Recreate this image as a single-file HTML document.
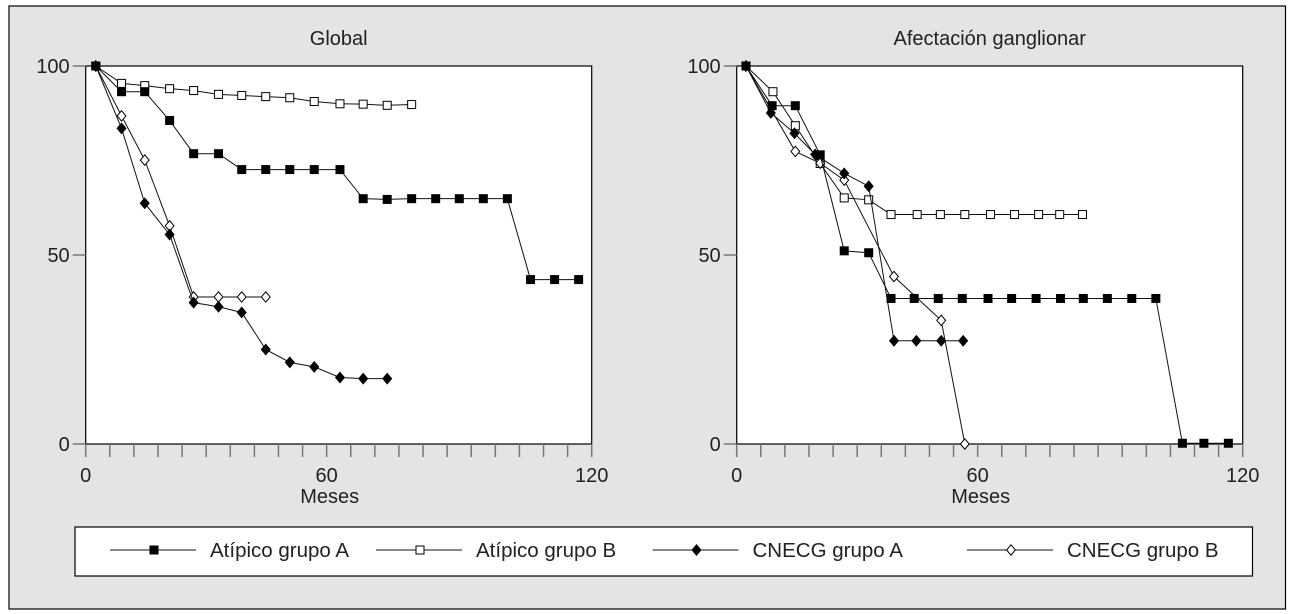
<!DOCTYPE html>
<html><head><meta charset="utf-8"><style>
html,body{margin:0;padding:0;background:#fff;}
svg{display:block;font-family:"Liberation Sans",sans-serif;}
</style></head><body>
<svg id="fig" width="1293" height="614" viewBox="0 0 1293 614">
<rect x="9" y="6" width="1276.5" height="603" fill="#e4e4e4" stroke="#000" stroke-width="1.2"/>
<g id="legend"></g>
</svg>
<script>
// ---- Global panel data (months, % survival) ----
const gAtA_x = [2.4,8.5,14.0,19.9,25.6,31.5,37.0,42.7,48.4,54.2,60.3,65.8,71.5,77.3,83.0,88.6,94.3,100,105.5,111.2,116.9];
const gAtA_y = [100,93.2,93.2,85.6,76.8,76.8,72.6,72.6,72.6,72.6,72.6,64.9,64.7,64.9,64.9,64.9,64.9,64.9,43.5,43.5,43.5];
const gAtB_x = [2.4,8.5,14.0,19.9,25.6,31.5,37.0,42.7,48.4,54.2,60.3,65.8,71.5,77.3];
const gAtB_y = [100,95.4,94.8,94.0,93.5,92.5,92.2,91.9,91.6,90.6,90.0,89.9,89.6,89.8];
const gCnA_x = [2.4,8.5,14.0,19.9,25.6,31.5,37.0,42.7,48.4,54.2,60.3,65.8,71.5];
const gCnA_y = [100,83.5,63.7,55.4,37.4,36.3,34.8,25.0,21.6,20.4,17.6,17.3,17.3];
const gCnB_x = [2.4,8.5,14.0,19.9,25.6,31.5,37.0,42.7];
const gCnB_y = [100,86.8,75.1,57.7,38.9,38.9,38.9,38.9];
// ---- Afectación ganglionar panel data ----
const aAtA_x = [2.2,8.4,13.9,19.8,25.5,31.3,36.6,42.1,47.8,53.5,59.6,65.2,71.0,76.8,82.2,87.9,93.7,99.4,105.7,110.8,116.6];
const aAtA_y = [100,89.5,89.5,76.5,51.1,50.6,38.5,38.5,38.5,38.5,38.5,38.5,38.5,38.5,38.5,38.5,38.5,38.5,0.2,0.2,0.2];
const aAtB_x = [2.2,8.6,13.9,19.8,25.5,31.3,36.6,42.8,48.3,54.1,60.2,65.9,71.6,76.6,82.0];
const aAtB_y = [100,93.2,84.2,74.2,65.1,64.6,60.7,60.7,60.7,60.7,60.7,60.7,60.7,60.7,60.7];
const aCnA_x = [2.2,8.1,13.7,18.6,25.5,31.3,37.3,42.6,48.5,53.7];
const aCnA_y = [100,87.6,82.2,76.6,71.6,68.2,27.3,27.3,27.3,27.3];
const aCnB_x = [2.2,13.9,19.8,25.5,37.3,48.5,54.1];
const aCnB_y = [100,77.4,74.3,69.8,44.3,32.7,0];
const yTicks = [0,50,100];
const xLabels = ["0","60","120"];
const legendLabels = ["Atípico grupo A","Atípico grupo B","CNECG grupo A","CNECG grupo B"];

const NS="http://www.w3.org/2000/svg";
const svg=document.getElementById('fig');
function mk(tag,attrs,parent){const e=document.createElementNS(NS,tag);for(const k in attrs)e.setAttribute(k,attrs[k]);(parent||svg).appendChild(e);return e;}
function marker(g,type,x,y){
  let e;
  if(type==='sqF'||type==='sqO'){
    e=mk('rect',{x:x-4,y:y-4,width:8,height:8,fill:type==='sqF'?'#000':'#fff',stroke:'#000','stroke-width':1},g);
  } else {
    e=mk('polygon',{points:`${x},${y-5.2} ${x+4.4},${y} ${x},${y+5.2} ${x-4.4},${y}`,fill:type==='dF'?'#000':'#fff',stroke:'#000','stroke-width':1},g);
  }
  return e;
}
function panel(name,L,R,title,series){
  const T=66,B=444;
  const sx=v=>L+v/120*(R-L), sy=v=>B-v/100*(B-T);
  const g=mk('g',{});
  
  
  const bg=mk('rect',{x:L,y:T,width:R-L,height:B-T,fill:'#fff',stroke:'#000','stroke-width':1.2},g);
  
  
  const t=mk('text',{x:(L+R)/2,y:45,'text-anchor':'middle','font-size':20,fill:'#222'},g);t.textContent=title;
  
  
  yTicks.forEach(v=>{
    mk('line',{x1:L-13,x2:L,y1:sy(v),y2:sy(v),stroke:'#777','stroke-width':1.5},g);
    const tl=mk('text',{x:L-16,y:sy(v)+7,'text-anchor':'end','font-size':20,fill:'#222'},g);tl.textContent=v;
    
    
  });
  for(let i=0;i<=21;i++){const x=L+i*(R-L)/21;mk('line',{x1:x,x2:x,y1:B,y2:B+13,stroke:'#777','stroke-width':1.5},g);}
  [0,10,21].forEach((i,k)=>{
    const xl=mk('text',{x:L+i*(R-L)/21,y:482,'text-anchor':'middle','font-size':20,fill:'#222'},g);xl.textContent=xLabels[k];
    
    
  });
  const xt=mk('text',{x:L+10*(R-L)/21+3,y:503,'text-anchor':'middle','font-size':20,fill:'#222'},g);xt.textContent='Meses';
  
  
  series.forEach(s=>{
    const sg=mk('g',{},g);
    
    
    const pts=s.x.map((v,i)=>sx(v)+','+sy(s.y[i])).join(' ');
    mk('polyline',{points:pts,fill:'none',stroke:'#111','stroke-width':1},sg);
    s.x.forEach((v,i)=>{const m=marker(sg,s.type,sx(v),sy(s.y[i]));
      
      });
  });
}
panel('global',85.7,591.7,'Global',[
  {name:'global-atipico-b',x:gAtB_x,y:gAtB_y,type:'sqO'},
  {name:'global-atipico-a',x:gAtA_x,y:gAtA_y,type:'sqF'},
  {name:'global-cnecg-b',x:gCnB_x,y:gCnB_y,type:'dO'},
  {name:'global-cnecg-a',x:gCnA_x,y:gCnA_y,type:'dF'}]);
panel('ganglionar',736.7,1242.7,'Afectación ganglionar',[
  {name:'gang-atipico-b',x:aAtB_x,y:aAtB_y,type:'sqO'},
  {name:'gang-cnecg-b',x:aCnB_x,y:aCnB_y,type:'dO'},
  {name:'gang-cnecg-a',x:aCnA_x,y:aCnA_y,type:'dF'},
  {name:'gang-atipico-a',x:aAtA_x,y:aAtA_y,type:'sqF'}]);
// legend
const lg=document.getElementById('legend');
const lb=mk('rect',{x:75,y:527,width:1177.5,height:49,fill:'#fff',stroke:'#000','stroke-width':1.2},lg);


const legX=[110,376,652.5,967];
const legT=['sqF','sqO','dF','dO'];
legendLabels.forEach((lab,i)=>{
  const eg=mk('g',{},lg);
  
  
  const x0=legX[i];
  mk('line',{x1:x0,x2:x0+86,y1:550,y2:550,stroke:'#111','stroke-width':1},eg);
  marker(eg,legT[i],x0+44,550);
  const tx=mk('text',{x:x0+100,y:557,'font-size':20.5,fill:'#222'},eg);tx.textContent=lab;
});
</script>
</body></html>
